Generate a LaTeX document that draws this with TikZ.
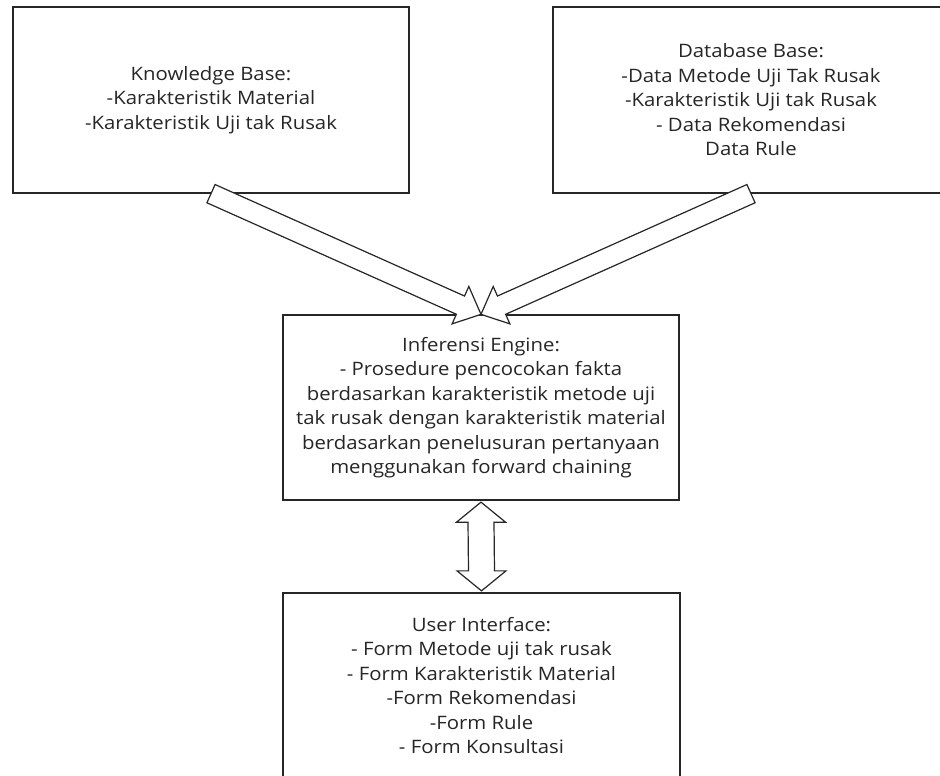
\documentclass[tikz,border=0pt]{standalone}
\usepackage{fontspec}
\setmainfont{Open Sans}[FakeStretch=1.1]
\usetikzlibrary{calc}

% hollow block arrow from #1 (tail) to #2 (tip)
\newcommand\blockarrow[2]{%
  \path let \p1=(#1) in coordinate (ba-a) at (\p1);
  \path let \p1=(#2) in coordinate (ba-b) at (\p1);
  \coordinate (ba-h) at ($(ba-b)!22.5pt!(ba-a)$);
  \draw[arrowline]
    ($(ba-a)!10pt!90:(ba-b)$) -- ($(ba-h)!10pt!-90:(ba-a)$)
    -- ($(ba-h)!20.5pt!-90:(ba-a)$) -- (ba-b)
    -- ($(ba-h)!20.5pt!90:(ba-a)$) -- ($(ba-h)!10pt!90:(ba-a)$)
    -- ($(ba-a)!10pt!-90:(ba-b)$) -- cycle;
}

\begin{document}
\begin{tikzpicture}[x=1pt,y=-1pt,
  box/.style={draw=black!85, line width=1.3pt, fill=white,
    minimum width=396pt, minimum height=186pt, inner sep=0pt,
    align=center, text=black!85,
    font=\fontsize{18.5}{24.5}\selectfont},
  arrowline/.style={draw=black!85, line width=1.2pt, fill=white, line join=miter}]
\useasboundingbox (0,0) rectangle (940,776);
\clip (0,0) rectangle (940,776);

\node[box] (kb) at (211,100) {Knowledge Base:\\-Karakteristik Material\\-Karakteristik Uji tak Rusak};
\node[box] (db) at (751,100) {Database Base:\\-Data Metode Uji Tak Rusak\\-Karakteristik Uji tak Rusak\\- Data Rekomendasi\\Data Rule};
\node[box, minimum height=185pt] (ie) at (481,407.5) {Inferensi Engine:\\- Prosedure pencocokan fakta\\berdasarkan karakteristik metode uji\\tak rusak dengan karakteristik material\\berdasarkan penelusuran pertanyaan\\menggunakan forward chaining};
\node[box, minimum width=397pt, minimum height=185pt] (ui) at (481.5,685.5) {User Interface:\\- Form Metode uji tak rusak\\- Form Karakteristik Material\\-Form Rekomendasi\\-Form Rule\\- Form Konsultasi};

% knowledge and database feed the inference engine
\blockarrow{kb.south}{ie.north}
\blockarrow{db.south}{ie.north}

% two-way link between inference engine and user interface
\coordinate (da-t) at ($(ie.south)+(0,1.5)$);
\coordinate (da-b) at ($(ui.north)+(0,-1.5)$);
\draw[arrowline]
  (da-t) -- ++(24.5,20) -- ++(-11.5,0) -- ($(da-b)+(13,-20)$) -- ++(11.5,0)
  -- (da-b) -- ++(-24.5,-20) -- ++(11.5,0) -- ($(da-t)+(-13,20)$) -- ++(-11.5,0) -- cycle;
\end{tikzpicture}
\end{document}
